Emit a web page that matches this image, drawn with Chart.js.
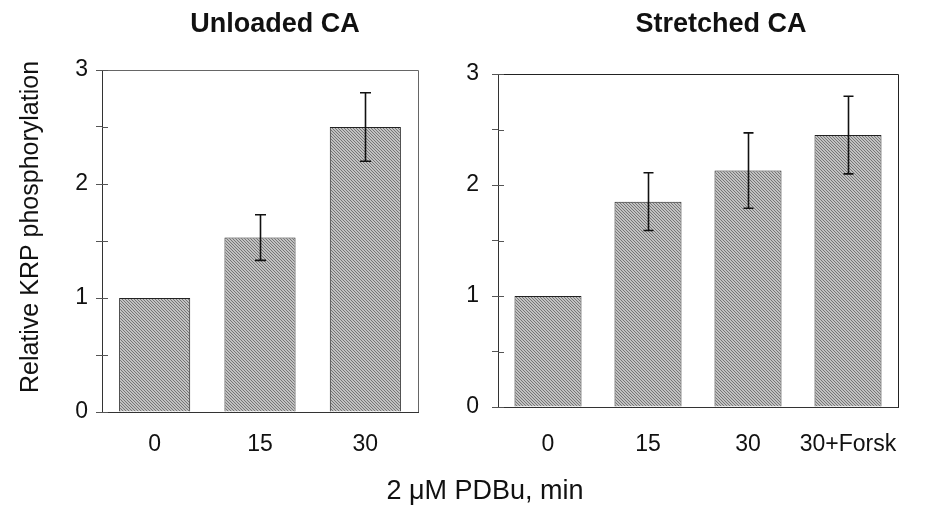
<!DOCTYPE html>
<html>
<head>
<meta charset="utf-8">
<script src="https://cdn.jsdelivr.net/npm/chart.js@4.4.1/dist/chart.umd.min.js"></script>
<style>
  html, body { margin: 0; padding: 0; background: #fff; }
  #wrap { position: relative; width: 937px; height: 510px; overflow: hidden; }
  canvas { position: absolute; left: 0; top: 0; }
</style>
</head>
<body>
<div id="wrap">
  <canvas id="left" width="937" height="510"></canvas>
  <canvas id="right" width="937" height="510"></canvas>
</div>
<script>
// ---- data ----
const leftCategories = ['0', '15', '30'];
const leftValues = [1.0, 1.53, 2.5];
const leftErrors = [0, 0.2, 0.3];

const rightCategories = ['0', '15', '30', '30+Forsk'];
const rightValues = [1.0, 1.85, 2.13, 2.45];
const rightErrors = [0, 0.26, 0.34, 0.35];

const yTickValues = [0, 1, 2, 3];
const panelTitles = ['Unloaded CA', 'Stretched CA'];
const yAxisTitle = 'Relative KRP phosphorylation';
const xAxisTitle = '2 \u03bcM PDBu, min';

const FONT = '"Liberation Sans", Arial, Helvetica, sans-serif';

// fine hatched grey pattern like the scanned bars
function makePattern() {
  const c = document.createElement('canvas');
  c.width = 3; c.height = 3;
  const g = c.getContext('2d');
  g.fillStyle = '#c2c2c2';
  g.fillRect(0, 0, 3, 3);
  g.fillStyle = '#767676';
  for (let y = 0; y < 3; y++) {
    for (let x = 0; x < 3; x++) {
      if (((x - y) % 3 + 3) % 3 === 0) g.fillRect(x, y, 1, 1);
    }
  }
  return g.createPattern(c, 'repeat');
}
const hatch = makePattern();

const errorBars = {
  id: 'errorBars',
  afterDatasetsDraw(chart, args, opts) {
    const ctx = chart.ctx;
    const meta = chart.getDatasetMeta(0);
    const ys = chart.scales.y;
    const vals = chart.data.datasets[0].data;
    const errs = opts.errors || [];
    ctx.save();
    ctx.strokeStyle = '#111';
    ctx.lineWidth = 1.6;
    meta.data.forEach((bar, i) => {
      const e = errs[i];
      if (!e) return;
      const x = Math.round(bar.x) + 0.5;
      const top = ys.getPixelForValue(vals[i] + e);
      const bot = ys.getPixelForValue(vals[i] - e);
      const w = opts.cap / 2;
      ctx.beginPath();
      ctx.moveTo(x, top); ctx.lineTo(x, bot);
      ctx.moveTo(x - w, top); ctx.lineTo(x + w, top);
      ctx.moveTo(x - w, bot); ctx.lineTo(x + w, bot);
      ctx.stroke();
    });
    ctx.restore();
  }
};

const frame = {
  id: 'frame',
  beforeDatasetsDraw(chart, args, opts) {
    const a = chart.chartArea;
    const ctx = chart.ctx;
    ctx.save();
    ctx.strokeStyle = opts.color;
    ctx.lineWidth = 1;
    ctx.beginPath();
    ctx.moveTo(a.left, a.top + 0.5);
    ctx.lineTo(a.right + 0.5, a.top + 0.5);
    ctx.lineTo(a.right + 0.5, a.bottom);
    ctx.stroke();
    // inner halves of the y ticks (ticks cross the axis)
    const ys = chart.scales.y;
    ctx.strokeStyle = '#555';
    ys.ticks.forEach(t => {
      const y = Math.round(ys.getPixelForValue(t.value)) + 0.5;
      ctx.beginPath();
      ctx.moveTo(a.left, y);
      ctx.lineTo(a.left + 6, y);
      ctx.stroke();
    });
    ctx.restore();
  }
};

const texts = {
  id: 'texts',
  afterDraw(chart, args, opts) {
    const ctx = chart.ctx;
    ctx.save();
    (opts.items || []).forEach(t => {
      ctx.save();
      ctx.font = t.font;
      ctx.fillStyle = '#111';
      ctx.textAlign = 'center';
      ctx.textBaseline = 'middle';
      ctx.translate(t.x, t.y);
      if (t.rot) ctx.rotate(t.rot);
      ctx.fillText(t.text, 0, 0);
      ctx.restore();
    });
    ctx.restore();
  }
};

function makeChart(id, cats, vals, errs, geom, extraTexts) {
  return new Chart(document.getElementById(id), {
    type: 'bar',
    data: {
      labels: cats,
      datasets: [{
        data: vals,
        backgroundColor: hatch,
        borderColor: '#222',
        borderWidth: 1,
        barPercentage: geom.barPct,
        categoryPercentage: 1
      }]
    },
    options: {
      responsive: false,
      animation: false,
      events: [],
      layout: { padding: { left: 0, top: geom.top, right: 937 - geom.right, bottom: 0 } },
      plugins: {
        legend: { display: false },
        tooltip: { enabled: false },
        errorBars: { errors: errs, cap: geom.cap },
        frame: { color: geom.frameColor },
        texts: { items: extraTexts }
      },
      scales: {
        x: {
          grid: { display: false, drawTicks: false },
          border: { display: true, color: '#333', width: 1 },
          ticks: { color: '#111', font: { family: FONT, size: 23 }, padding: geom.xPad, maxRotation: 0, autoSkip: false },
          afterFit(s) { s.height = 510 - geom.bottom; }
        },
        y: {
          min: 0, max: 3,
          grid: { drawOnChartArea: false, drawTicks: true, tickLength: 6, color: '#555' },
          border: { display: true, color: '#333', width: 1 },
          ticks: {
            stepSize: 0.5,
            color: '#111',
            font: { family: FONT, size: 23 },
            padding: geom.yPad,
            callback: v => yTickValues.includes(v) ? String(v) : ''
          },
          afterFit(s) { s.width = geom.left; }
        }
      }
    },
    plugins: [frame, errorBars, texts]
  });
}

makeChart('left', leftCategories, leftValues, leftErrors,
  { left: 102, right: 418, top: 70, bottom: 412, barPct: 0.675, cap: 11, frameColor: '#666', xPad: 19, yPad: 8 },
  [
    { text: panelTitles[0], x: 275, y: 25, font: 'bold 27px ' + FONT },
    { text: yAxisTitle, x: 31, y: 227, rot: -Math.PI / 2, font: '25px ' + FONT },
    { text: xAxisTitle, x: 485, y: 492, font: '27px ' + FONT }
  ]);

makeChart('right', rightCategories, rightValues, rightErrors,
  { left: 498, right: 898, top: 74, bottom: 407, barPct: 0.67, cap: 10, frameColor: '#222', xPad: 24, yPad: 13 },
  [
    { text: panelTitles[1], x: 721, y: 25, font: 'bold 27px ' + FONT }
  ]);
</script>
</body>
</html>
